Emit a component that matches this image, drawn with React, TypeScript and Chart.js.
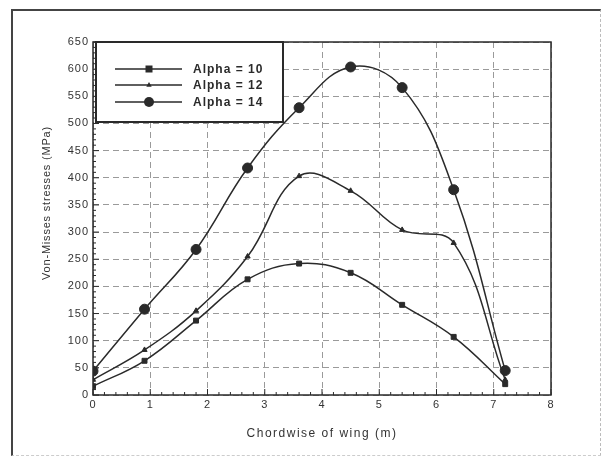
import React, { useEffect, useRef } from "react";
import { Chart, registerables } from "chart.js";

Chart.register(...registerables);

const chordwise = [0, 0.9, 1.8, 2.7, 3.6, 4.5, 5.4, 6.3, 7.2];
const alpha10 = [16, 63, 137, 213, 242, 225, 166, 107, 20];
const alpha12 = [28, 83, 155, 255, 403, 376, 304, 280, 28];
const alpha14 = [44, 158, 268, 418, 529, 604, 566, 378, 45];
const seriesLabels = ["Alpha = 10", "Alpha = 12", "Alpha = 14"];
const xTitle = "Chordwise of wing (m)";
const yTitle = "Von-Misses stresses (MPa)";

const INK = "#2a2a2a";
const FONT = "'Liberation Sans', Arial, sans-serif";

function drawMarker(ctx: CanvasRenderingContext2D, style: string, x: number, y: number, r: number) {
  ctx.beginPath();
  if (style === "rect") {
    ctx.rect(x - r, y - r, 2 * r, 2 * r);
  } else if (style === "triangle") {
    ctx.moveTo(x, y - r);
    ctx.lineTo(x + r * 0.9, y + r * 0.6);
    ctx.lineTo(x - r * 0.9, y + r * 0.6);
    ctx.closePath();
  } else {
    ctx.arc(x, y, r, 0, Math.PI * 2);
  }
  ctx.fill();
}

const spacingPlugin = {
  id: "spacing",
  beforeDraw(chart: any) {
    (chart.ctx as any).letterSpacing = "1px";
  },
};

const framePlugin = {
  id: "frameAndMinor",
  afterDraw(chart: any) {
    const { ctx, chartArea: a, scales } = chart;
    const xs = scales.x;
    const ys = scales.y;
    ctx.save();
    ctx.strokeStyle = INK;
    ctx.lineWidth = 1.5;
    ctx.strokeRect(a.left, a.top, a.right - a.left, a.bottom - a.top);
    ctx.lineWidth = 1;
    for (let v = 0; v <= 8.0001; v += 0.2) {
      const px = xs.getPixelForValue(v);
      const major = Math.abs(v - Math.round(v)) < 1e-6;
      const len = major ? 6 : 3;
      ctx.beginPath();
      ctx.moveTo(px, a.bottom);
      ctx.lineTo(px, a.bottom - len);
      ctx.stroke();
    }
    for (let v = 0; v <= 650.0001; v += 10) {
      const py = ys.getPixelForValue(v);
      const major = v % 50 === 0;
      const len = major ? 6 : 3;
      ctx.beginPath();
      ctx.moveTo(a.left, py);
      ctx.lineTo(a.left + len, py);
      ctx.stroke();
    }
    // axis titles
    ctx.fillStyle = "#333";
    ctx.textAlign = "center";
    ctx.textBaseline = "middle";
    (ctx as any).letterSpacing = "1.5px";
    ctx.font = `12px ${FONT}`;
    ctx.fillText(xTitle, (a.left + a.right) / 2, 434);
    ctx.save();
    ctx.translate(47, 203);
    ctx.rotate(-Math.PI / 2);
    (ctx as any).letterSpacing = "0.8px";
    ctx.font = `11px ${FONT}`;
    ctx.fillText(yTitle, 0, 0);
    ctx.restore();
    // legend box
    const bx = 96, by = 42, bw = 187, bh = 80;
    ctx.fillStyle = "#ffffff";
    ctx.fillRect(bx, by, bw, bh);
    ctx.strokeStyle = INK;
    ctx.lineWidth = 2;
    ctx.strokeRect(bx, by, bw, bh);
    const rows = [69, 85, 102];
    chart.data.datasets.forEach((ds: any, i: number) => {
      const y = rows[i];
      ctx.strokeStyle = INK;
      ctx.lineWidth = ds.borderWidth;
      ctx.beginPath();
      ctx.moveTo(115, y);
      ctx.lineTo(182, y);
      ctx.stroke();
      ctx.fillStyle = INK;
      drawMarker(ctx, ds.pointStyle, 149, y, ds.pointRadius);
      ctx.fillStyle = INK;
      (ctx as any).letterSpacing = "1px";
      ctx.font = `bold 12px ${FONT}`;
      ctx.textAlign = "left";
      ctx.textBaseline = "middle";
      ctx.fillText(ds.label, 193, y + 0.5);
    });
    ctx.restore();
  },
};

export default function App() {
  const ref = useRef<HTMLCanvasElement>(null);
  useEffect(() => {
    if (!ref.current) return;
    const mk = (vals: number[]) => chordwise.map((x, i) => ({ x, y: vals[i] }));
    const chart = new Chart(ref.current, {
      type: "line",
      data: {
        datasets: [
          { label: seriesLabels[0], data: mk(alpha10), pointStyle: "rect", pointRadius: 3.5 },
          { label: seriesLabels[1], data: mk(alpha12), pointStyle: "triangle", pointRadius: 3 },
          { label: seriesLabels[2], data: mk(alpha14), pointStyle: "circle", pointRadius: 5 },
        ].map((d) => ({
          ...d,
          borderColor: INK,
          backgroundColor: INK,
          pointBackgroundColor: INK,
          pointBorderColor: INK,
          pointBorderWidth: 1,
          borderWidth: 1.5,
          tension: 0.4,
          fill: false,
        })) as any,
      },
      options: {
        responsive: false,
        animation: false,
        layout: { padding: { left: 0, right: 53, top: 42, bottom: 0 } },
        plugins: { legend: { display: false }, tooltip: { enabled: false } },
        scales: {
          x: {
            type: "linear",
            min: 0,
            max: 8,
            afterFit: (s: any) => { s.height = 67; },
            ticks: { stepSize: 1, color: "#333", font: { family: FONT, size: 11 }, padding: 3 },
            grid: { color: "#9a9a9a", lineWidth: 1, drawTicks: false },
            border: { display: false, dash: [6, 4] },
          },
          y: {
            min: 0,
            max: 650,
            afterFit: (s: any) => { s.width = 93; },
            ticks: { stepSize: 50, color: "#333", font: { family: FONT, size: 11 }, padding: 4 },
            grid: { color: "#9a9a9a", lineWidth: 1, drawTicks: false },
            border: { display: false, dash: [6, 4] },
          },
        },
      },
      plugins: [spacingPlugin, framePlugin],
    });
    return () => chart.destroy();
  }, []);
  return (
    <div style={{ position: "fixed", left: 0, top: 0, width: 604, height: 462, background: "#fff" }}>
      <div style={{ position: "absolute", left: 11, top: 9, right: 3, bottom: 6, borderTop: "2px solid #444", borderLeft: "2px solid #444", borderRight: "1px dashed #bbb", borderBottom: "1px dashed #ccc" }} />
      <canvas ref={ref} width={604} height={462} style={{ position: "absolute", left: 0, top: 0 }} />
    </div>
  );
}
